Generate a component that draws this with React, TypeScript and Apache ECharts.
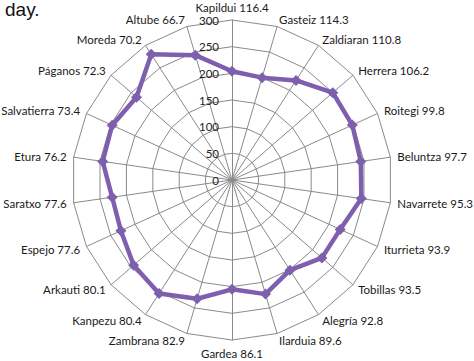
import React, { useEffect, useRef } from "react";
import * as echarts from "echarts";

// Clockwise from the top
const stations = [
  "Kapildui", "Gasteiz", "Zaldiaran", "Herrera", "Roitegi", "Beluntza",
  "Navarrete", "Iturrieta", "Tobillas", "Alegría", "Ilarduia", "Gardea",
  "Zambrana", "Kanpezu", "Arkauti", "Espejo", "Saratxo", "Etura",
  "Salvatierra", "Páganos", "Moreda", "Altube",
];
const labelValues = [
  116.4, 114.3, 110.8, 106.2, 99.8, 97.7, 95.3, 93.9, 93.5, 92.8, 89.6,
  86.1, 82.9, 80.4, 80.1, 77.6, 77.6, 76.2, 73.4, 72.3, 70.2, 66.7,
];
const seriesValues = [
  204, 200, 222, 250, 248, 244, 245, 223, 223, 201, 223,
  205, 232, 253, 244, 229, 227, 245, 247, 237, 280, 244,
];
const axisMax = 300;
const tickInterval = 50;

export default function App() {
  const ref = useRef<HTMLDivElement>(null);
  useEffect(() => {
    if (!ref.current) return;
    const chart = echarts.init(ref.current, undefined, { renderer: "svg" });
    // ECharts radar runs counter-clockwise; reorder so the picture runs clockwise
    const order = [0, ...stations.map((_, i) => i).slice(1).reverse()];
    const indicator = order.map((i, k) => ({
      name: `${stations[i]} ${labelValues[i]}`,
      min: 0,
      max: axisMax,
      ...(k === 0
        ? {
            axisLabel: {
              show: true,
              color: "#222",
              fontFamily: "Lato",
              fontSize: 11.5,
              margin: 13,
              formatter: (v: number) => String(v),
            },
          }
        : {}),
    }));
    const data = order.map((i) => seriesValues[i]);
    chart.setOption({
      animation: false,
      graphic: [
        {
          type: "text",
          left: 5,
          top: 0,
          style: {
            text: "day.",
            font: "19px 'Liberation Sans', Arial, sans-serif",
            fill: "#111",
          },
        },
      ],
      radar: {
        center: [232, 180],
        radius: 160,
        startAngle: 90,
        shape: "polygon",
        splitNumber: axisMax / tickInterval,
        indicator,
        axisName: {
          color: "#1a1a1a",
          fontFamily: "Lato",
          fontSize: 11.5,
        },
        nameGap: 7,
        splitArea: { show: false },
        splitLine: { lineStyle: { color: "#8a8a8a", width: 1 } },
        axisLine: { lineStyle: { color: "#8a8a8a", width: 1 } },
        axisTick: { show: false },
      },
      series: [
        {
          type: "radar",
          data: [{ value: data }],
          symbol: "diamond",
          symbolSize: 11,
          lineStyle: { color: "#7e5fae", width: 4.5 },
          itemStyle: { color: "#7e5fae" },
        },
      ],
    });
    return () => chart.dispose();
  }, []);
  return (
    <div
      ref={ref}
      style={{ position: "fixed", left: 0, top: 0, width: 474, height: 361, background: "#fff" }}
    />
  );
}
